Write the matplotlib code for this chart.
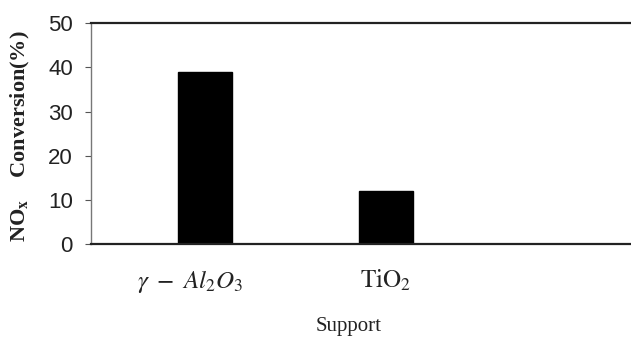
import matplotlib
matplotlib.use("Agg")
import matplotlib.pyplot as plt
from matplotlib.transforms import ScaledTranslation

# NOx conversion over two catalyst supports
supports = [r"$\gamma\ -\ Al_2O_3$", r"$\mathrm{TiO_2}$"]
conversion = [39, 12]
yticks = [0, 10, 20, 30, 40, 50]

plt.rcParams["mathtext.fontset"] = "stix"

fig = plt.figure(figsize=(6.31, 3.41), dpi=100)
ax = fig.add_axes([91 / 631, 1 - 244 / 341, 1 - 91 / 631, (244 - 23.3) / 341])

x = list(range(len(supports)))
ax.bar(x, conversion, width=0.3, color="black", edgecolor="black")

ax.set_xlim(-0.634, 2.36)
ax.set_ylim(0, 50)
ax.set_yticks(yticks)
ax.set_yticklabels([str(v) for v in yticks], fontsize=16,
                   family="Liberation Sans", color="#222222")

ax.set_xticks(x)
ax.set_xticklabels(supports, fontsize=18, color="#222222")
ax.tick_params(axis="x", length=0, pad=17)
ax.tick_params(axis="y", direction="out", length=4, width=0.8,
               color="#555555", pad=9)

# nudge the first category label slightly left
first = ax.get_xticklabels()[0]
first.set_transform(first.get_transform()
                    + ScaledTranslation(-0.15, 0, fig.dpi_scale_trans))

for side in ("top", "bottom"):
    ax.spines[side].set_linewidth(1.6)
    ax.spines[side].set_color("#222222")
ax.spines["right"].set_visible(False)
ax.spines["left"].set_linestyle((0, (3, 1)))
ax.spines["left"].set_color("#777777")
ax.spines["left"].set_linewidth(1.0)

ax.set_ylabel(r"NO$_\mathbf{x}$    Conversion(%)", family="Liberation Serif",
              fontweight="bold", fontsize=16, color="#222222")
ax.yaxis.set_label_coords(-0.11, 0.49)

ax.set_xlabel("Support", family="Liberation Serif", fontsize=15, color="#222222")
ax.xaxis.set_label_coords((349 - 91) / (631 - 91), -0.33)

fig.savefig("out.png", dpi=100)
